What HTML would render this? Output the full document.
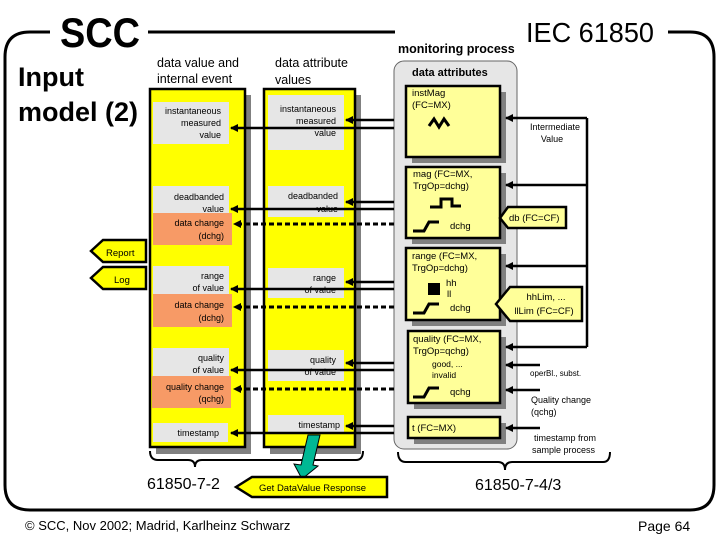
<!DOCTYPE html>
<html><head><meta charset="utf-8"><style>
html,body{margin:0;padding:0;background:#fff;}
svg{display:block;font-family:"Liberation Sans",sans-serif;}
</style></head><body>
<svg width="720" height="540" viewBox="0 0 720 540" xmlns="http://www.w3.org/2000/svg">
<defs>
<marker id="ah" markerWidth="8" markerHeight="8" refX="7" refY="4" orient="auto" markerUnits="userSpaceOnUse"><path d="M0,0 L8,4 L0,8 Z" fill="#000"/></marker>
</defs>
<path d="M50,32 L30,32 Q5,32 5,57 L5,485 Q5,510 30,510 L690,510 Q714,510 714,485 L714,57 Q714,32 690,32 L668,32" fill="none" stroke="#000" stroke-width="3"/>
<line x1="148" y1="32" x2="395" y2="32" stroke="#000" stroke-width="3"/>
<text x="60" y="47" font-size="42" font-weight="bold" textLength="80" lengthAdjust="spacingAndGlyphs">SCC</text>
<text x="18" y="86" font-size="27" font-weight="bold">Input</text>
<text x="18" y="121" font-size="27" font-weight="bold">model (2)</text>
<text x="526" y="42" font-size="28" textLength="128" lengthAdjust="spacingAndGlyphs">IEC 61850</text>
<text x="398" y="53" font-size="12.5" font-weight="bold">monitoring process</text>

<text x="157" y="67" font-size="12.5">data value and</text>
<text x="157" y="83" font-size="12.5">internal event</text>
<text x="275" y="67" font-size="12.5">data attribute</text>
<text x="275" y="84" font-size="12.5">values</text>

<rect x="156" y="95" width="95" height="359" fill="#808080"/>
<rect x="150" y="89" width="95" height="358" fill="#ffff00" stroke="#000" stroke-width="2.5"/>
<rect x="270" y="95" width="91" height="359" fill="#808080"/>
<rect x="264" y="89" width="91" height="358" fill="#ffff00" stroke="#000" stroke-width="2.5"/>

<g font-size="9" text-anchor="end">
<rect x="153" y="102" width="76" height="42" fill="#e6e6e6"/>
<text x="221" y="114">instantaneous</text><text x="221" y="126">measured</text><text x="221" y="138">value</text>
<rect x="153" y="186" width="76" height="27" fill="#e6e6e6"/>
<text x="224" y="200">deadbanded</text><text x="224" y="212">value</text>
<rect x="153" y="213" width="79" height="32" fill="#f79a66"/>
<text x="224" y="226">data change</text><text x="224" y="239">(dchg)</text>
<rect x="153" y="266" width="76" height="28" fill="#e6e6e6"/>
<text x="224" y="279">range</text><text x="224" y="291">of value</text>
<rect x="153" y="294" width="79" height="33" fill="#f79a66"/>
<text x="224" y="308">data change</text><text x="224" y="321">(dchg)</text>
<rect x="153" y="348" width="76" height="28" fill="#e6e6e6"/>
<text x="224" y="361">quality</text><text x="224" y="373">of value</text>
<rect x="152" y="376" width="79" height="32" fill="#f79a66"/>
<text x="224" y="390">quality change</text><text x="224" y="402">(qchg)</text>
<rect x="153" y="423" width="75" height="19" fill="#e6e6e6"/>
<text x="219" y="436">timestamp</text>

<rect x="268" y="95" width="76" height="55" fill="#e6e6e6"/>
<text x="336" y="112">instantaneous</text><text x="336" y="124">measured</text><text x="336" y="136">value</text>
<rect x="268" y="186" width="76" height="31" fill="#e6e6e6"/>
<text x="338" y="199">deadbanded</text><text x="338" y="212">value</text>
<rect x="268" y="268" width="76" height="30" fill="#e6e6e6"/>
<text x="336" y="281">range</text><text x="336" y="293">of value</text>
<rect x="268" y="350" width="76" height="31" fill="#e6e6e6"/>
<text x="336" y="363">quality</text><text x="336" y="375">of value</text>
<rect x="268" y="415" width="76" height="18" fill="#e6e6e6"/>
<text x="340" y="428">timestamp</text>
</g>

<rect x="394" y="61" width="123" height="388" rx="10" fill="#e6e6e6" stroke="#666" stroke-width="1"/>
<text x="412" y="76" font-size="11" font-weight="bold">data attributes</text>
<g stroke="#000" stroke-width="2.5">
<rect x="412" y="92" width="94" height="71" fill="#808080" stroke="none"/>
<rect x="406" y="86" width="94" height="71" fill="#ffff99"/>
<rect x="412" y="173" width="94" height="71" fill="#808080" stroke="none"/>
<rect x="406" y="167" width="94" height="71" fill="#ffff99"/>
<rect x="412" y="254" width="94" height="72" fill="#808080" stroke="none"/>
<rect x="406" y="248" width="94" height="72" fill="#ffff99"/>
<rect x="414" y="337" width="92" height="72" fill="#808080" stroke="none"/>
<rect x="408" y="331" width="92" height="72" fill="#ffff99"/>
<rect x="414" y="423" width="92" height="21" fill="#808080" stroke="none"/>
<rect x="408" y="417" width="92" height="21" fill="#ffff99"/>
</g>
<g font-size="9.5">
<text x="412" y="96">instMag</text><text x="412" y="108">(FC=MX)</text>
<text x="413" y="177">mag (FC=MX,</text><text x="413" y="189">TrgOp=dchg)</text>
<text x="450" y="229">dchg</text>
<text x="412" y="259">range (FC=MX,</text><text x="412" y="271">TrgOp=dchg)</text>
<text x="446" y="286">hh</text><text x="447" y="297">ll</text><text x="450" y="311">dchg</text>
<text x="413" y="342">quality (FC=MX,</text><text x="413" y="354">TrgOp=qchg)</text>
<text x="432" y="367" font-size="8.5">good, ...</text><text x="432" y="378" font-size="8.5">invalid</text>
<text x="450" y="395">qchg</text>
<text x="412" y="431">t (FC=MX)</text>
</g>
<path d="M429,126 L434,119 L439,127 L444,119 L449,126" fill="none" stroke="#000" stroke-width="3"/>
<path d="M430,207 L441,207 L441,199 L452,199 L452,206 L461,206" fill="none" stroke="#000" stroke-width="3"/>
<path d="M413,231 L424,231 L429,222 L439,222" fill="none" stroke="#000" stroke-width="3"/>
<rect x="428" y="283" width="12" height="12" fill="#000"/>
<path d="M413,313 L424,313 L429,304 L439,304" fill="none" stroke="#000" stroke-width="3"/>
<path d="M413,397 L424,397 L429,388 L439,388" fill="none" stroke="#000" stroke-width="3"/>

<g stroke="#000" stroke-width="2.5" fill="none">
<path d="M587,118 L587,347"/>
<line x1="587" y1="118" x2="506" y2="118" marker-end="url(#ah)"/>
<line x1="587" y1="185" x2="506" y2="185" marker-end="url(#ah)"/>
<line x1="587" y1="266" x2="506" y2="266" marker-end="url(#ah)"/>
<line x1="587" y1="347" x2="506" y2="347" marker-end="url(#ah)"/>
<line x1="540" y1="365" x2="506" y2="365" marker-end="url(#ah)"/>
<line x1="540" y1="390" x2="506" y2="390" marker-end="url(#ah)"/>
<line x1="540" y1="428" x2="506" y2="428" marker-end="url(#ah)"/>
</g>
<g font-size="9">
<text x="555" y="130" text-anchor="middle">Intermediate</text><text x="552" y="142" text-anchor="middle">Value</text>
<text x="530" y="376" font-size="8">operBl., subst.</text>
<text x="531" y="403">Quality change</text><text x="531" y="415">(qchg)</text>
<text x="534" y="441">timestamp from</text><text x="532" y="453">sample process</text>
</g>
<path d="M500,218 L508,207 L566,207 L566,228 L508,228 Z" fill="#ffff99" stroke="#000" stroke-width="2.5"/>
<text x="509" y="221" font-size="9.5">db (FC=CF)</text>
<path d="M496,304 L510,287 L582,287 L582,321 L510,321 Z" fill="#ffff99" stroke="#000" stroke-width="2.5"/>
<text x="546" y="300" font-size="9.5" text-anchor="middle">hhLim, ...</text>
<text x="544" y="314" font-size="9.5" text-anchor="middle">llLim (FC=CF)</text>

<g stroke="#000" stroke-width="2.5" fill="none">
<line x1="394" y1="120" x2="346" y2="120" marker-end="url(#ah)"/>
<line x1="394" y1="128" x2="231" y2="128" marker-end="url(#ah)"/>
<line x1="394" y1="202" x2="346" y2="202" marker-end="url(#ah)"/>
<line x1="394" y1="209" x2="231" y2="209" marker-end="url(#ah)"/>
<line x1="394" y1="282" x2="346" y2="282" marker-end="url(#ah)"/>
<line x1="394" y1="289" x2="231" y2="289" marker-end="url(#ah)"/>
<line x1="394" y1="363" x2="346" y2="363" marker-end="url(#ah)"/>
<line x1="394" y1="370" x2="231" y2="370" marker-end="url(#ah)"/>
<line x1="394" y1="426" x2="346" y2="426" marker-end="url(#ah)"/>
<line x1="394" y1="433" x2="231" y2="433" marker-end="url(#ah)"/>
<g stroke-dasharray="5,3" stroke-width="3">
<line x1="394" y1="224" x2="234" y2="224" marker-end="url(#ah)"/>
<line x1="394" y1="307" x2="234" y2="307" marker-end="url(#ah)"/>
<line x1="394" y1="389" x2="234" y2="389" marker-end="url(#ah)"/>
</g>
</g>

<path d="M91,251 L103,240 L146,240 L146,262 L103,262 Z" fill="#ffff00" stroke="#000" stroke-width="2.5"/>
<text x="106" y="256" font-size="9.5">Report</text>
<path d="M91,278 L103,267 L146,267 L146,289 L103,289 Z" fill="#ffff00" stroke="#000" stroke-width="2.5"/>
<text x="114" y="283" font-size="9.5">Log</text>

<path d="M150,451 Q150,460 158,460 L188,460 Q195,460 195,467 Q195,460 202,460 L356,460 Q363,460 363,451" fill="none" stroke="#000" stroke-width="2"/>
<path d="M398,452 Q398,462 406,462 L498,462 Q505,462 505,470 Q505,462 512,462 L603,462 Q610,462 610,452" fill="none" stroke="#000" stroke-width="2"/>
<text x="147" y="489" font-size="16">61850-7-2</text>
<text x="475" y="490" font-size="16">61850-7-4/3</text>

<path d="M308,435 L320,435 L313,465 L318,466 L302,479 L294,464 L301,465 Z" fill="#00b894" stroke="#000" stroke-width="1"/>
<path d="M236,487 L252,477 L387,477 L387,497 L252,497 Z" fill="#ffff00" stroke="#000" stroke-width="2.5"/>
<text x="259" y="491" font-size="9.5">Get DataValue Response</text>

<text x="25" y="530" font-size="13">© SCC, Nov 2002; Madrid, Karlheinz Schwarz</text>
<text x="638" y="531" font-size="14">Page 64</text>
</svg>
</body></html>
